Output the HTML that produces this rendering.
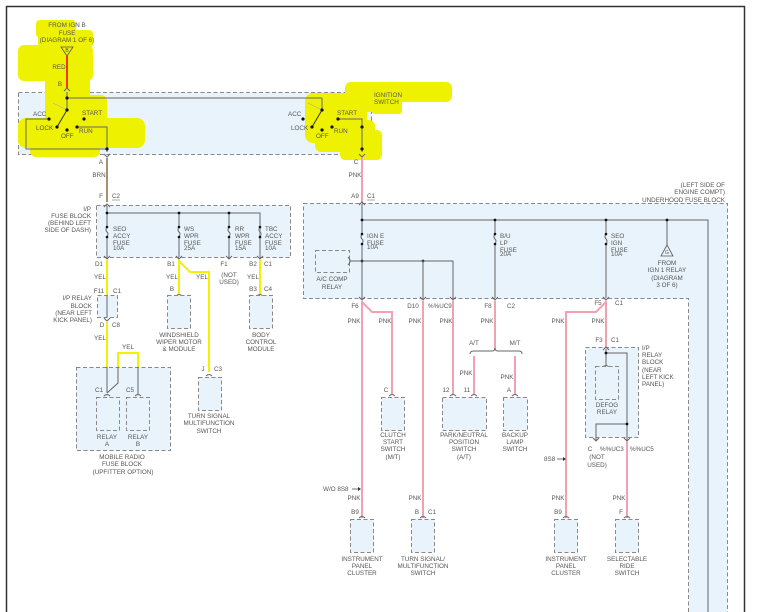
<!DOCTYPE html>
<html><head><meta charset="utf-8"><style>
html,body{margin:0;padding:0;background:#fff;}
svg{display:block;}
text{font-family:"Liberation Sans",sans-serif;font-size:6.3px;fill:#555;}
.bx{fill:#e8f3fc;stroke:#888;stroke-width:1;stroke-dasharray:4,2.5;}
.w{stroke:#666;stroke-width:1;fill:none;}
.pk{stroke:#f4a0b4;stroke-width:2;fill:none;}
.yl{stroke:#f2f200;stroke-width:2;fill:none;}
.d{fill:#111;}
</style></head><body>
<svg width="766" height="612" viewBox="0 0 766 612" xmlns="http://www.w3.org/2000/svg">
<rect width="766" height="612" fill="#fff"/>
<!-- frame -->
<line x1="6.5" y1="6" x2="6.5" y2="612" stroke="#333" stroke-width="1.5"/>
<line x1="6" y1="6.5" x2="745" y2="6.5" stroke="#333" stroke-width="1.5"/>
<line x1="744.5" y1="6" x2="744.5" y2="612" stroke="#333" stroke-width="1.5"/>

<!-- ignition switch box -->
<rect class="bx" x="18.5" y="92.5" width="353" height="62"/>

<!-- yellow highlights -->
<g fill="#eef200">
<rect x="36" y="20" width="40" height="18" rx="4"/>
<rect x="38" y="30" width="55" height="18" rx="4"/>
<rect x="18" y="45" width="75" height="36" rx="6"/>
<rect x="45" y="70" width="45" height="35" rx="5"/>
<rect x="45" y="95" width="62" height="30" rx="6"/>
<rect x="18" y="118" width="127" height="30" rx="8"/>
<rect x="30" y="135" width="70" height="22" rx="6"/>
<rect x="345" y="82" width="107" height="20" rx="6"/>
<rect x="345" y="92" width="30" height="20" rx="3"/>
<rect x="372" y="98" width="30" height="16" rx="3"/>
<rect x="305" y="93" width="62" height="50" rx="8"/>
<rect x="315" y="120" width="60" height="32" rx="6"/>
<rect x="340" y="130" width="42" height="30" rx="5"/>
</g>

<!-- top-left source -->
<text x="67" y="27" text-anchor="middle">FROM IGN B</text>
<text x="67" y="35" text-anchor="middle">FUSE</text>
<text x="67" y="42" text-anchor="middle">(DIAGRAM 1 OF 6)</text>
<path d="M61,47 L73,47 L67,56Z" fill="none" stroke="#555" stroke-width="0.8"/>
<text x="67" y="52" text-anchor="middle" style="font-size:5px">B</text>
<line x1="67" y1="56" x2="67" y2="88" stroke="#ee3a10" stroke-width="2"/>
<text x="59" y="69" text-anchor="middle">RED</text>
<text x="60" y="86" text-anchor="middle">B</text>
<path d="M64,91 L67,88 L70,91" class="w"/>

<!-- left switch -->
<polyline class="w" points="67,92 67,98 322,98"/>
<line class="w" x1="67" y1="98" x2="67" y2="110"/>
<line x1="53" y1="103" x2="67" y2="110" stroke="#aaa" stroke-width="0.6"/>
<line x1="67" y1="110" x2="57" y2="127" stroke="#333" stroke-width="1"/>
<polyline class="w" points="49,119 26,119 26,149 107,149"/>
<polyline class="w" points="77,127 107,127 107,152"/>
<g class="d"><circle cx="67" cy="98" r="1.6"/><circle cx="67" cy="110" r="1.6"/><circle cx="49" cy="119" r="1.6"/><circle cx="84" cy="119" r="1.6"/><circle cx="57" cy="127" r="1.6"/><circle cx="67" cy="130" r="1.6"/><circle cx="77" cy="127" r="1.6"/><circle cx="107" cy="149" r="1.6"/></g>
<text x="33" y="116">ACC</text><text x="82" y="115">START</text><text x="36" y="130">LOCK</text><text x="61" y="138">OFF</text><text x="79" y="133">RUN</text>
<path d="M104,154 L107,157 L110,154" class="w"/>
<text x="101" y="164" text-anchor="middle">A</text>

<!-- right switch -->
<line class="w" x1="322" y1="98" x2="322" y2="110"/>
<line x1="308" y1="103" x2="322" y2="110" stroke="#aaa" stroke-width="0.6"/>
<line x1="322" y1="110" x2="312" y2="127" stroke="#333" stroke-width="1"/>
<polyline class="w" points="338,119 362,119 362,152"/>
<g class="d"><circle cx="322" cy="110" r="1.6"/><circle cx="303" cy="119" r="1.6"/><circle cx="338" cy="119" r="1.6"/><circle cx="312" cy="127" r="1.6"/><circle cx="322" cy="130" r="1.6"/><circle cx="332" cy="127" r="1.6"/><circle cx="362" cy="127" r="1.6"/><circle cx="362" cy="149" r="1.6"/></g>
<text x="288" y="116">ACC</text><text x="337" y="115">START</text><text x="291" y="130">LOCK</text><text x="316" y="138">OFF</text><text x="334" y="133">RUN</text>
<text x="374" y="97">IGNITION</text><text x="374" y="104">SWITCH</text>
<path d="M359,154 L362,157 L365,154" class="w"/>
<text x="356" y="164" text-anchor="middle">C</text>

<!-- BRN / PNK down -->
<line x1="107" y1="158" x2="107" y2="202" stroke="#8a6a3a" stroke-width="1.5"/>
<text x="99" y="177" text-anchor="middle">BRN</text>
<text x="101" y="198" text-anchor="middle">F</text><text x="112" y="198">C2</text><line x1="112" y1="200" x2="120" y2="200" stroke="#555" stroke-width="0.5"/>
<line class="pk" x1="362" y1="158" x2="362" y2="202"/>
<text x="355" y="177" text-anchor="middle">PNK</text>
<text x="355" y="198" text-anchor="middle">A9</text><text x="367" y="198">C1</text><line x1="367" y1="200" x2="375" y2="200" stroke="#555" stroke-width="0.5"/>

<!-- I/P fuse block -->
<rect class="bx" x="96.5" y="205.5" width="194" height="52"/>
<text x="91" y="211" text-anchor="end">I/P</text>
<text x="91" y="218" text-anchor="end">FUSE BLOCK</text>
<text x="91" y="225" text-anchor="end">(BEHIND LEFT</text>
<text x="91" y="232" text-anchor="end">SIDE OF DASH)</text>
<path d="M104,207 L107,204 L110,207" class="w"/>
<polyline class="w" points="107,206 107,213 260,213 260,257"/>
<g class="w">
<line x1="107" y1="213" x2="107" y2="227"/><path d="M107,227 q-2,3 0,5 q2,2 0,5"/><line x1="107" y1="237" x2="107" y2="257"/>
<line x1="179" y1="213" x2="179" y2="227"/><path d="M179,227 q-2,3 0,5 q2,2 0,5"/><line x1="179" y1="237" x2="179" y2="257"/>
<line x1="229" y1="213" x2="229" y2="227"/><path d="M229,227 q-2,3 0,5 q2,2 0,5"/><line x1="229" y1="237" x2="229" y2="257"/>
<path d="M260,227 q-2,3 0,5 q2,2 0,5" fill="#e8f3fc"/>
</g>
<g class="d"><circle cx="107" cy="213" r="1.4"/><circle cx="179" cy="213" r="1.4"/><circle cx="229" cy="213" r="1.4"/>
<circle cx="107" cy="227" r="1.3"/><circle cx="107" cy="237" r="1.3"/><circle cx="179" cy="227" r="1.3"/><circle cx="179" cy="237" r="1.3"/><circle cx="229" cy="227" r="1.3"/><circle cx="229" cy="237" r="1.3"/><circle cx="260" cy="227" r="1.3"/><circle cx="260" cy="237" r="1.3"/></g>
<text x="113" y="231">SEO</text><text x="113" y="238">ACCY</text><text x="113" y="245">FUSE</text><text x="113" y="250">10A</text>
<text x="184" y="231">WS</text><text x="184" y="238">WPR</text><text x="184" y="245">FUSE</text><text x="184" y="250">25A</text>
<text x="235" y="231">RR</text><text x="235" y="238">WPR</text><text x="235" y="245">FUSE</text><text x="235" y="250">15A</text>
<text x="265" y="231">TBC</text><text x="265" y="238">ACCY</text><text x="265" y="245">FUSE</text><text x="265" y="250">10A</text>
<g class="w"><path d="M104,256 L107,259 L110,256"/><path d="M176,256 L179,259 L182,256"/><path d="M226,256 L229,259 L232,256"/><path d="M257,256 L260,259 L263,256"/></g>
<text x="99" y="266" text-anchor="middle">D1</text><text x="171" y="266" text-anchor="middle">B1</text><text x="224" y="266" text-anchor="middle">F1</text><text x="253" y="266" text-anchor="middle">B2</text><text x="264" y="266">C1</text>
<text x="229" y="277" text-anchor="middle">(NOT</text><text x="229" y="284" text-anchor="middle">USED)</text>

<!-- yellow wires -->
<line class="yl" x1="107" y1="260" x2="107" y2="298"/>
<text x="100" y="279" text-anchor="middle">YEL</text>
<line class="yl" x1="179" y1="260" x2="179" y2="294"/>
<polyline class="yl" points="179,261 190,272 209,272 209,372"/>
<text x="172" y="279" text-anchor="middle">YEL</text><text x="202" y="279" text-anchor="middle">YEL</text>
<line class="yl" x1="260" y1="260" x2="260" y2="294"/>
<text x="253" y="279" text-anchor="middle">YEL</text>

<!-- I/P relay block -->
<rect class="bx" x="97.5" y="295.5" width="20" height="22"/>
<text x="99" y="293" text-anchor="middle">F11</text><text x="113" y="293">C1</text>
<text x="92" y="300" text-anchor="end">I/P RELAY</text><text x="92" y="308" text-anchor="end">BLOCK</text><text x="92" y="315" text-anchor="end">(NEAR LEFT</text><text x="92" y="322" text-anchor="end">KICK PANEL)</text>
<line class="w" x1="107" y1="296" x2="107" y2="318"/>
<path d="M104,318 L107,321 L110,318" class="w"/>
<text x="102" y="327" text-anchor="middle">D</text><text x="112" y="327">C8</text>
<line class="yl" x1="107" y1="322" x2="107" y2="368"/>
<text x="100" y="340" text-anchor="middle">YEL</text>
<polyline class="yl" points="118,368 118,353 138,353 138,368"/>
<text x="128" y="349" text-anchor="middle">YEL</text>

<!-- mobile radio fuse block -->
<rect class="bx" x="76.5" y="367.5" width="94" height="83"/>
<line class="w" x1="107" y1="367" x2="107" y2="393"/>
<polyline class="w" points="118,367 118,383 107,393"/>
<line class="w" x1="138" y1="367" x2="138" y2="394"/>
<path d="M104,396 q3,-3 6,0 M135,396 q3,-3 6,0" class="w"/>
<text x="99" y="392" text-anchor="middle">C1</text><text x="130" y="392" text-anchor="middle">C5</text>
<rect class="bx" x="96.5" y="397.5" width="23" height="33"/>
<rect class="bx" x="126.5" y="397.5" width="23" height="33"/>
<text x="107" y="439" text-anchor="middle">RELAY</text><text x="107" y="446" text-anchor="middle">A</text>
<text x="138" y="439" text-anchor="middle">RELAY</text><text x="138" y="446" text-anchor="middle">B</text>
<text x="122" y="459" text-anchor="middle">MOBILE RADIO</text><text x="122" y="466" text-anchor="middle">FUSE BLOCK</text><text x="123" y="474" text-anchor="middle">(UPFITTER OPTION)</text>

<!-- windshield, body control, turn signal -->
<text x="172" y="291" text-anchor="middle">B</text>
<path d="M176,296 q3,-3 6,0" class="w"/>
<rect class="bx" x="167.5" y="295.5" width="23" height="33"/>
<text x="179" y="337" text-anchor="middle">WINDSHIELD</text><text x="179" y="344" text-anchor="middle">WIPER MOTOR</text><text x="179" y="351" text-anchor="middle">&amp; MODULE</text>
<text x="253" y="291" text-anchor="middle">B3</text><text x="264" y="291">C4</text>
<path d="M257,296 q3,-3 6,0" class="w"/>
<rect class="bx" x="249.5" y="295.5" width="23" height="33"/>
<text x="261" y="337" text-anchor="middle">BODY</text><text x="261" y="344" text-anchor="middle">CONTROL</text><text x="261" y="351" text-anchor="middle">MODULE</text>
<text x="203" y="371" text-anchor="middle">J</text><text x="214" y="371">C3</text>
<path d="M206,376 q3,-3 6,0" class="w"/>
<rect class="bx" x="198.5" y="377.5" width="23" height="33"/>
<text x="209" y="418" text-anchor="middle">TURN SIGNAL</text><text x="209" y="425" text-anchor="middle">MULTIFUNCTION</text><text x="209" y="433" text-anchor="middle">SWITCH</text>

<!-- underhood fuse block -->
<path class="bx" d="M303.5,203.5 L727.5,203.5 L727.5,615 L688.5,615 L688.5,298.5 L303.5,298.5Z"/>
<text x="725" y="187" text-anchor="end">(LEFT SIDE OF</text><text x="725" y="194" text-anchor="end">ENGINE COMPT)</text><text x="725" y="202" text-anchor="end">UNDERHOOD FUSE BLOCK</text>
<path d="M359,205 L362,202 L365,205" class="w"/>
<polyline class="w" points="362,204 362,220 708,220 708,612"/>
<line class="w" x1="362" y1="220" x2="362" y2="234"/><path class="w" d="M362,234 q-2,3 0,5 q2,2 0,5"/><line class="w" x1="362" y1="244" x2="362" y2="298"/>
<line class="w" x1="495" y1="220" x2="495" y2="234"/><path class="w" d="M495,234 q-2,3 0,5 q2,2 0,5"/><line class="w" x1="495" y1="244" x2="495" y2="298"/>
<line class="w" x1="606" y1="220" x2="606" y2="234"/><path class="w" d="M606,234 q-2,3 0,5 q2,2 0,5"/><line class="w" x1="606" y1="244" x2="606" y2="298"/>
<line class="w" x1="667" y1="220" x2="667" y2="245"/>
<path d="M661,256 L667,245 L673,256Z" fill="none" stroke="#555" stroke-width="0.8"/>
<text x="667" y="254" text-anchor="middle" style="font-size:5px">G</text>
<text x="667" y="265" text-anchor="middle">FROM</text><text x="667" y="272" text-anchor="middle">IGN 1 RELAY</text><text x="667" y="280" text-anchor="middle">(DIAGRAM</text><text x="667" y="287" text-anchor="middle">3 OF 6)</text>
<g class="d"><circle cx="362" cy="220" r="1.4"/><circle cx="495" cy="220" r="1.4"/><circle cx="606" cy="220" r="1.4"/><circle cx="667" cy="220" r="1.4"/>
<circle cx="362" cy="234" r="1.3"/><circle cx="362" cy="244" r="1.3"/><circle cx="495" cy="234" r="1.3"/><circle cx="495" cy="244" r="1.3"/><circle cx="606" cy="234" r="1.3"/><circle cx="606" cy="244" r="1.3"/>
<circle cx="362" cy="261" r="1.4"/><circle cx="423" cy="261" r="1.4"/></g>
<text x="367" y="238">IGN E</text><text x="367" y="245">FUSE</text><text x="367" y="249">10A</text>
<text x="500" y="238">B/U</text><text x="500" y="245">LP</text><text x="500" y="252">FUSE</text><text x="500" y="256">20A</text>
<text x="611" y="238">SEO</text><text x="611" y="245">IGN</text><text x="611" y="252">FUSE</text><text x="611" y="256">10A</text>
<rect class="bx" x="315.5" y="250.5" width="34" height="22"/>
<path class="w" d="M348,257 q4,4 0,8"/>
<polyline class="w" points="350,261 453,261 453,298"/>
<line class="w" x1="423" y1="261" x2="423" y2="298"/>
<text x="332" y="281" text-anchor="middle">A/C COMP</text><text x="332" y="289" text-anchor="middle">RELAY</text>
<g class="w"><path d="M359,297 L362,300 L365,297"/><path d="M420,297 L423,300 L426,297"/><path d="M450,297 L453,300 L456,297"/><path d="M492,297 L495,300 L498,297"/><path d="M603,297 L606,300 L609,297"/></g>
<text x="355" y="308" text-anchor="middle">F6</text><text x="413" y="308" text-anchor="middle">D10</text><text x="428" y="308">%%UC9</text><text x="488" y="308" text-anchor="middle">F8</text><text x="507" y="308">C2</text>
<text x="598" y="305" text-anchor="middle">F5</text><text x="615" y="305">C1</text>

<!-- pink wires right -->
<line class="pk" x1="362" y1="301" x2="362" y2="518"/>
<polyline class="pk" points="362,302 372,312 392,312 392,395"/>
<line class="pk" x1="423" y1="301" x2="423" y2="518"/>
<line class="pk" x1="453" y1="301" x2="453" y2="395"/>
<line class="pk" x1="495" y1="301" x2="495" y2="349"/>
<line class="pk" x1="474" y1="356" x2="474" y2="395"/>
<line class="pk" x1="515" y1="356" x2="515" y2="395"/>
<path class="w" d="M470,354 q0,-3 4,-3 L492,351 q3,0 3,-3 q0,3 3,3 L519,351 q3,0 3,3"/>
<text x="474" y="345" text-anchor="middle">A/T</text><text x="515" y="345" text-anchor="middle">M/T</text>
<line class="pk" x1="606" y1="301" x2="606" y2="347"/>
<polyline class="pk" points="606,302 596,312 566,312 566,518"/>
<text x="354" y="323" text-anchor="middle">PNK</text><text x="385" y="323" text-anchor="middle">PNK</text><text x="415" y="323" text-anchor="middle">PNK</text><text x="446" y="323" text-anchor="middle">PNK</text><text x="487" y="323" text-anchor="middle">PNK</text><text x="558" y="323" text-anchor="middle">PNK</text><text x="598" y="323" text-anchor="middle">PNK</text>
<text x="466" y="375" text-anchor="middle">PNK</text><text x="507" y="379" text-anchor="middle">PNK</text>

<!-- clutch, PNP, backup -->
<text x="386" y="392" text-anchor="middle">C</text><path class="w" d="M389,396 q3,-3 6,0"/>
<rect class="bx" x="381.5" y="397.5" width="23" height="33"/>
<text x="393" y="437" text-anchor="middle">CLUTCH</text><text x="393" y="444" text-anchor="middle">START</text><text x="393" y="451" text-anchor="middle">SWITCH</text><text x="393" y="459" text-anchor="middle">(M/T)</text>
<text x="446" y="392" text-anchor="middle">12</text><text x="467" y="392" text-anchor="middle">11</text>
<path class="w" d="M450,396 q3,-3 6,0 M471,396 q3,-3 6,0"/>
<rect class="bx" x="442.5" y="397.5" width="44" height="33"/>
<text x="464" y="437" text-anchor="middle">PARK/NEUTRAL</text><text x="464" y="444" text-anchor="middle">POSITION</text><text x="464" y="451" text-anchor="middle">SWITCH</text><text x="464" y="459" text-anchor="middle">(A/T)</text>
<text x="509" y="392" text-anchor="middle">A</text><path class="w" d="M512,396 q3,-3 6,0"/>
<rect class="bx" x="503.5" y="397.5" width="24" height="33"/>
<text x="515" y="437" text-anchor="middle">BACKUP</text><text x="515" y="444" text-anchor="middle">LAMP</text><text x="515" y="451" text-anchor="middle">SWITCH</text>

<!-- I/P relay block right -->
<text x="599" y="342" text-anchor="middle">F3</text><text x="611" y="342">C1</text>
<rect class="bx" x="585.5" y="347.5" width="53" height="90"/>
<path class="w" d="M603,350 L606,347 L609,350"/>
<polyline class="w" points="606,349 606,353 627,353 627,440"/>
<line class="w" x1="606" y1="353" x2="606" y2="365"/>
<path class="w" d="M603,367 q3,-3 6,0"/>
<rect class="bx" x="595.5" y="366.5" width="23" height="33"/>
<text x="607" y="407" text-anchor="middle">DEFOG</text><text x="607" y="414" text-anchor="middle">RELAY</text>
<polyline class="w" points="596,440 596,424 627,424"/>
<g class="d"><circle cx="606" cy="353" r="1.4"/><circle cx="627" cy="424" r="1.4"/></g>
<path class="w" d="M593,438 L596,441 L599,438 M624,438 L627,441 L630,438"/>
<text x="642" y="350">I/P</text><text x="642" y="357">RELAY</text><text x="642" y="364">BLOCK</text><text x="642" y="372">(NEAR</text><text x="642" y="379">LEFT KICK</text><text x="642" y="386">PANEL)</text>
<text x="590" y="451" text-anchor="middle">C</text><text x="600" y="451">%%UC3</text><text x="630" y="451">%%UC5</text>
<text x="597" y="459" text-anchor="middle">(NOT</text><text x="597" y="467" text-anchor="middle">USED)</text>
<line class="pk" x1="627" y1="441" x2="627" y2="518"/>
<text x="544" y="461">8S8</text><path d="M557,459 L564,459" stroke="#333" stroke-width="0.7"/><path d="M563,457 L566,459 L563,461Z" fill="#333"/>
<text x="323" y="491">W/O 8S8</text><path d="M352,489 L359,489" stroke="#333" stroke-width="0.7"/><path d="M358,487 L361,489 L358,491Z" fill="#333"/>

<!-- bottom components -->
<text x="354" y="500" text-anchor="middle">PNK</text><text x="415" y="500" text-anchor="middle">PNK</text><text x="558" y="500" text-anchor="middle">PNK</text><text x="619" y="500" text-anchor="middle">PNK</text>
<text x="355" y="514" text-anchor="middle">B9</text><path class="w" d="M359,518 q3,-3 6,0"/>
<rect class="bx" x="350.5" y="519.5" width="23" height="33"/>
<text x="362" y="561" text-anchor="middle">INSTRUMENT</text><text x="362" y="568" text-anchor="middle">PANEL</text><text x="362" y="575" text-anchor="middle">CLUSTER</text>
<text x="417" y="514" text-anchor="middle">B</text><text x="428" y="514">C1</text><path class="w" d="M420,518 q3,-3 6,0"/>
<rect class="bx" x="411.5" y="519.5" width="23" height="33"/>
<text x="423" y="561" text-anchor="middle">TURN SIGNAL/</text><text x="423" y="568" text-anchor="middle">MULTIFUNCTION</text><text x="423" y="575" text-anchor="middle">SWITCH</text>
<text x="558" y="514" text-anchor="middle">B9</text><path class="w" d="M563,518 q3,-3 6,0"/>
<rect class="bx" x="554.5" y="519.5" width="23" height="33"/>
<text x="566" y="561" text-anchor="middle">INSTRUMENT</text><text x="566" y="568" text-anchor="middle">PANEL</text><text x="566" y="575" text-anchor="middle">CLUSTER</text>
<text x="621" y="514" text-anchor="middle">F</text><path class="w" d="M624,518 q3,-3 6,0"/>
<rect class="bx" x="615.5" y="519.5" width="23" height="33"/>
<text x="627" y="561" text-anchor="middle">SELECTABLE</text><text x="627" y="568" text-anchor="middle">RIDE</text><text x="627" y="575" text-anchor="middle">SWITCH</text>
</svg>
</body></html>
